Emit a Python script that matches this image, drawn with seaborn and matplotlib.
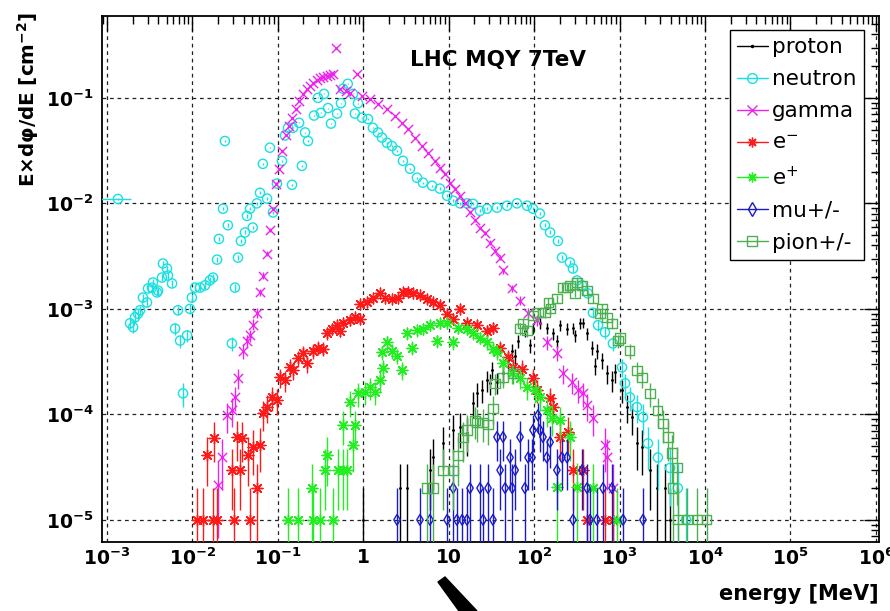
import numpy as np
import pandas as pd
import matplotlib
matplotlib.use("Agg")
import matplotlib.pyplot as plt
import seaborn as sns
from matplotlib.lines import Line2D
from matplotlib.patches import Polygon
from matplotlib.ticker import FixedLocator, FixedFormatter, LogLocator, NullFormatter

sns.set_style("white")
plt.rcParams['font.family'] = ['DejaVu Sans']
plt.rcParams['mathtext.fontset'] = 'dejavusans'
plt.rcParams['text.color'] = 'black'
plt.rcParams['axes.labelcolor'] = 'black'
plt.rcParams['xtick.color'] = 'black'
plt.rcParams['ytick.color'] = 'black'

# ---------------- data (energy in MeV, E*dphi/dE in cm^-2) ----------------
proton_E = [1.0, 2.7, 3.26, 6.05, 6.55, 8.6, 11.3, 13.6, 16.4, 19.3, 21.5, 24.6, 28.1, 30.5, 32.2, 36.8,
            43.3, 49.5, 55.4, 64.9, 78, 97, 117, 141, 166, 201, 243, 285, 345, 373, 417, 476, 544, 622,
            712, 886, 1070, 1220, 1400, 1600, 1830, 2270, 2740, 3400, 3900,
            60, 89.5, 185, 301, 516, 816]
proton_flux = [1e-5, 2e-5, 2e-5, 2.96e-5, 3.9e-5, 5.3e-5, 7.1e-5, 7.6e-5, 6.6e-5, 1.27e-4, 1.58e-4, 1.69e-4,
               2.1e-4, 1.97e-4, 2.61e-4, 2.01e-4, 2.45e-4, 3.25e-4, 4.0e-4, 5.0e-4, 6.2e-4, 6.6e-4, 7.3e-4,
               6.6e-4, 5.85e-4, 7.0e-4, 6.5e-4, 6.6e-4, 7.3e-4, 7.4e-4, 5.85e-4, 4.3e-4, 4.0e-4, 3.25e-4,
               2.45e-4, 2.5e-4, 1.69e-4, 1.17e-4, 9.4e-5, 5.3e-5, 4.9e-5, 2.96e-5, 2e-5, 2e-5, 1e-5,
               3.6e-4, 4.5e-4, 5.0e-4, 5.6e-4, 2.9e-4, 2.1e-4]

neutron_E = [1.35e-3, 1.87e-3, 2.03e-3, 2.14e-3, 2.32e-3, 2.45e-3, 2.65e-3, 2.95e-3, 3.04e-3, 3.38e-3,
             3.47e-3, 3.87e-3, 3.98e-3, 4.42e-3, 4.54e-3, 5.06e-3, 5.2e-3, 5.8e-3, 6.3e-3, 6.8e-3,
             7.2e-3, 7.8e-3, 8.7e-3, 9.4e-3, 9.9e-3, 1.08e-2, 1.23e-2, 1.41e-2, 1.61e-2, 1.75e-2,
             1.95e-2, 2.05e-2, 2.29e-2, 2.41e-2, 2.61e-2, 2.91e-2, 3.16e-2, 3.43e-2, 3.71e-2, 4.14e-2,
             4.37e-2, 4.74e-2, 5.1e-2, 5.7e-2, 6.2e-2, 6.7e-2, 7.5e-2, 8.1e-2, 8.8e-2, 9.8e-2,
             0.112, 0.122, 0.132, 0.151, 0.178, 0.192, 0.147, 0.209, 0.226, 0.266,
             0.296, 0.32, 0.348, 0.388, 0.42, 0.495, 0.55, 0.58, 0.66, 0.76,
             0.87, 0.80, 0.97, 1.14, 1.30, 1.49, 1.66, 1.90, 2.17, 2.49,
             2.92, 3.53, 4.26, 5.0, 6.4, 7.9, 9.6, 11.3, 13.6, 16.4,
             19.3, 23.3, 28.1, 36.8, 48.2, 63, 82.7, 97, 117, 134,
             154, 190, 212, 263, 285, 318, 364, 427, 488, 560,
             675, 837, 1070, 1160, 1320, 1600, 1880, 2150, 2810, 3900, 4800, 6000]
neutron_flux = [1.1e-2, 7.3e-4, 6.7e-4, 8.3e-4, 9.0e-4, 9.7e-4, 1.28e-3, 1.15e-3, 1.56e-3, 1.59e-3,
                1.78e-3, 1.43e-3, 1.49e-3, 1.98e-3, 2.69e-3, 2.41e-3, 2.07e-3, 1.74e-3, 6.5e-4, 9.7e-4,
                5.0e-4, 1.58e-4, 5.6e-4, 1.0e-3, 1.28e-3, 1.59e-3, 1.59e-3, 1.67e-3, 1.86e-3, 1.98e-3,
                2.93e-3, 4.6e-3, 8.9e-3, 3.9e-2, 6.2e-3, 4.7e-4, 1.59e-3, 3.06e-3, 4.4e-3, 5.3e-3,
                7.6e-3, 8.9e-3, 5.9e-3, 1.0e-2, 1.26e-2, 2.37e-2, 1.11e-2, 3.37e-2, 8.2e-3, 1.54e-2,
                2.53e-2, 4.4e-2, 5.2e-2, 5.2e-2, 5.8e-2, 2.27e-2, 1.5e-2, 4.7e-2, 3.9e-2, 6.8e-2,
                1.0e-1, 7.2e-2, 1.09e-1, 8.0e-2, 5.7e-2, 7.1e-2, 8.9e-2, 1.22e-1, 1.36e-1, 1.09e-1,
                8.9e-2, 7.1e-2, 6.5e-2, 6.3e-2, 5.2e-2, 4.7e-2, 4.2e-2, 3.75e-2, 3.5e-2, 3.15e-2,
                2.53e-2, 2.13e-2, 1.75e-2, 1.57e-2, 1.47e-2, 1.38e-2, 1.18e-2, 1.06e-2, 1.0e-2, 1.0e-2,
                9.9e-3, 8.5e-3, 8.9e-3, 9.1e-3, 9.5e-3, 1.0e-2, 9.5e-3, 8.9e-3, 8.0e-3, 6.2e-3,
                5.3e-3, 4.4e-3, 3.06e-3, 2.75e-3, 2.41e-3, 1.86e-3, 1.67e-3, 1.40e-3, 9.2e-4, 7.0e-4,
                6.0e-4, 4.7e-4, 2.79e-4, 1.97e-4, 1.45e-4, 1.17e-4, 9.4e-5, 5.3e-5, 3.9e-5, 3.1e-5,
                2.0e-5, 1.0e-5]
neutron_first_bin = [7.0e-4, 1.9e-3]

gamma_E = [2.0e-2, 2.23e-2, 2.55e-2, 2.91e-2, 3.16e-2, 3.43e-2, 3.92e-2, 4.37e-2, 4.74e-2, 5.1e-2,
           5.7e-2, 6.2e-2, 6.7e-2, 7.5e-2, 8.1e-2, 8.8e-2, 9.5e-2, 0.104, 0.112, 0.125,
           0.136, 0.147, 0.164, 0.178, 0.198, 0.22, 0.239, 0.259, 0.288, 0.313,
           0.339, 0.377, 0.409, 0.443, 0.481, 0.535, 0.63, 0.70, 0.85, 0.97,
           1.20, 1.49, 1.90, 2.36, 2.84, 3.34, 4.04, 4.87, 5.74, 6.9,
           7.9, 9.1, 10.4, 11.9, 13.6, 15.6, 17.8, 20.4, 23.3, 26.7,
           30.5, 34.9, 40, 43.3, 55.4, 68.5, 85, 108, 141, 185,
           218, 278, 326, 373, 417, 488, 676, 712, 837]
gamma_flux = [2.13e-5, 3.9e-5, 9.8e-5, 1.09e-4, 1.45e-4, 2.2e-4, 4.0e-4, 5.0e-4, 5.6e-4, 7.1e-4,
              9.2e-4, 1.43e-3, 2.07e-3, 3.34e-3, 5.6e-3, 8.9e-3, 1.54e-2, 2.13e-2, 3.15e-2, 4.4e-2,
              5.4e-2, 6.5e-2, 7.9e-2, 9.4e-2, 1.09e-1, 1.22e-1, 1.30e-1, 1.39e-1, 1.48e-1, 1.55e-1,
              1.58e-1, 1.62e-1, 1.65e-1, 1.69e-1, 2.97e-1, 1.22e-1, 1.16e-1, 1.12e-1, 1.69e-1, 1.04e-1,
              9.8e-2, 8.8e-2, 7.9e-2, 6.8e-2, 5.8e-2, 5.1e-2, 4.2e-2, 3.5e-2, 3.02e-2, 2.53e-2,
              2.18e-2, 1.91e-2, 1.57e-2, 1.38e-2, 1.18e-2, 1.0e-2, 8.2e-3, 6.9e-3, 5.9e-3, 5.2e-3,
              4.25e-3, 3.57e-3, 3.06e-3, 2.31e-3, 1.56e-3, 1.2e-3, 9.2e-4, 7.8e-4, 4.8e-4, 3.8e-4,
              2.45e-4, 2.01e-4, 1.69e-4, 1.58e-4, 1.22e-4, 9.2e-5, 5.1e-5, 3.9e-5, 2.0e-5]

electron_E = [1.13e-2, 1.33e-2, 1.75e-2, 1.95e-2, 3.08e-2, 4.74e-2, 2.91e-2, 3.6e-2, 3.33e-2, 3.81e-2,
              4.49e-2, 5.1e-2, 6.2e-2, 5.7e-2, 1.49e-2, 1.79e-2, 6.7e-2, 7.5e-2, 8.6e-2, 9.8e-2,
              0.106, 0.122, 0.139, 0.151, 0.173, 0.198, 0.22, 0.259, 0.296, 0.339,
              0.377, 0.431, 0.495, 0.535, 0.58, 0.70, 0.80, 0.92, 0.92, 1.11,
              1.30, 1.57, 1.80, 2.17, 2.55, 2.92, 3.34, 3.83, 4.62, 5.6,
              6.55, 7.9, 9.6, 11.3, 13.6, 16.4, 21.5, 28.1, 33, 40,
              49.5, 56.8, 72, 97, 108, 154, 166, 201, 250, 285,
              373, 417, 676, 837]
electron_flux = [1e-5, 1e-5, 1e-5, 1e-5, 1e-5, 1e-5, 2.96e-5, 2.96e-5, 6.1e-5, 6.0e-5,
                 4.1e-5, 4.9e-5, 5.1e-5, 2.0e-5, 4.1e-5, 6.0e-5, 1.02e-4, 1.17e-4, 1.45e-4, 1.36e-4,
                 2.24e-4, 2.1e-4, 2.79e-4, 2.61e-4, 3.4e-4, 3.8e-4, 3.04e-4, 4.0e-4, 4.3e-4, 4.2e-4,
                 5.85e-4, 6.5e-4, 7.0e-4, 6.2e-4, 7.4e-4, 7.8e-4, 8.3e-4, 8.1e-4, 1.12e-3, 1.15e-3,
                 1.28e-3, 1.40e-3, 1.28e-3, 1.25e-3, 1.28e-3, 1.43e-3, 1.43e-3, 1.40e-3, 1.34e-3, 1.25e-3,
                 1.15e-3, 1.08e-3, 9.0e-4, 8.1e-4, 1.0e-3, 7.4e-4, 7.0e-4, 6.2e-4, 6.6e-4, 4.3e-4,
                 3.47e-4, 2.79e-4, 2.72e-4, 2.2e-4, 1.69e-4, 1.42e-4, 1.17e-4, 6.1e-5, 6.8e-5, 2.96e-5,
                 2.96e-5, 1e-5, 1e-5, 1e-5]

positron_E = [0.132, 0.173, 0.259, 0.313, 0.443, 0.252, 0.358, 0.377, 0.51, 0.58,
              0.65, 0.58, 0.70, 0.76, 0.80, 0.87, 1.05, 1.20, 1.37, 1.57,
              1.70, 1.66, 1.90, 2.17, 2.49, 2.84, 3.26, 3.72, 4.26, 5.0,
              6.05, 7.3, 7.9, 9.6, 11.3, 12.9, 16.4, 19.3, 23.3, 28.1,
              33, 36.8, 43.3, 55.4, 68.5, 82.7, 102, 117, 141, 162,
              201, 263, 185, 318, 488, 930]
positron_flux = [1e-5, 1e-5, 1e-5, 1e-5, 1e-5, 2.0e-5, 2.96e-5, 4.1e-5, 2.96e-5, 2.96e-5,
                 2.96e-5, 7.9e-5, 1.30e-4, 5.1e-5, 7.9e-5, 1.58e-4, 1.62e-4, 1.80e-4, 1.62e-4, 2.1e-4,
                 2.73e-4, 3.87e-4, 4.8e-4, 4.0e-4, 3.6e-4, 2.61e-4, 5.85e-4, 4.3e-4, 6.25e-4, 6.5e-4,
                 7.0e-4, 5.0e-4, 7.3e-4, 7.4e-4, 4.8e-4, 6.6e-4, 6.4e-4, 5.85e-4, 5.35e-4, 4.8e-4,
                 4.2e-4, 3.87e-4, 3.04e-4, 2.45e-4, 2.2e-4, 1.80e-4, 1.69e-4, 1.45e-4, 1.09e-4, 9.2e-5,
                 8.8e-5, 6.1e-5, 2.04e-5, 2.04e-5, 2.0e-5, 1e-5]

muon_E = [2.49, 4.62, 6.05, 9.6, 11.3, 12.5, 14.4, 16.4, 17.8, 23.3,
          25.3, 28.9, 33, 36.8, 40, 43.3, 45.8, 52.3, 55.4, 60,
          68.5, 78, 85, 94.5, 97, 111, 117, 127, 141, 154,
          185, 212, 243, 285, 364, 417, 451, 544, 640, 816, 1100, 1880]
muon_flux = [1e-5, 1e-5, 1e-5, 1e-5, 2e-5, 1e-5, 1e-5, 1e-5, 2e-5, 2e-5,
             1e-5, 2e-5, 1e-5, 6.1e-5, 2.96e-5, 6.1e-5, 2e-5, 3.9e-5, 2e-5, 2.96e-5,
             6.1e-5, 2e-5, 3.9e-5, 3.9e-5, 7.1e-5, 9.8e-5, 7.1e-5, 6.1e-5, 3.9e-5, 5.45e-5,
             2.96e-5, 3.9e-5, 3.9e-5, 1e-5, 2.96e-5, 2e-5, 1e-5, 1e-5, 2e-5, 2e-5, 1e-5, 1e-5]

pion_E = [5.6, 6.55, 8.6, 11.3, 12.9, 14.7, 16.4, 20.4, 21.5, 25.3,
          28.9, 33, 34.9, 43.3, 56.8, 68.5, 74, 82.7, 97, 111,
          134, 146, 154, 185, 218, 243, 263, 301, 318, 364,
          417, 488, 590, 622, 712, 816, 958, 1010, 1320, 1600,
          1830, 2270, 2810, 3220, 3680, 4100, 4700, 4200, 4800, 6200, 8100, 10500]
pion_flux = [2e-5, 2e-5, 2.96e-5, 2.96e-5, 4.1e-5, 6.0e-5, 7.1e-5, 8.8e-5, 8.3e-5, 8.3e-5,
             8.0e-5, 1.14e-4, 1.97e-4, 2.24e-4, 2.45e-4, 6.5e-4, 7.3e-4, 6.2e-4, 8.7e-4, 9.2e-4,
             9.2e-4, 1.15e-3, 1.0e-3, 1.25e-3, 1.59e-3, 1.59e-3, 1.67e-3, 1.40e-3, 1.78e-3, 1.67e-3,
             1.49e-3, 1.25e-3, 9.0e-4, 1.0e-3, 8.3e-4, 7.3e-4, 5.0e-4, 5.3e-4, 4.0e-4, 2.61e-4,
             2.24e-4, 1.58e-4, 1.09e-4, 8.2e-5, 6.1e-5, 4.3e-5, 3.16e-5, 2e-5, 1e-5, 1e-5, 1e-5, 1e-5]

# flux of a single count (sets the Poisson error bars)
unit_count = 1e-5

series_names = ["proton", "neutron", "gamma", "e$^{-}$", "e$^{+}$", "mu+/-", "pion+/-"]

x_tick_values = [1e-3, 1e-2, 1e-1, 1, 10, 1e2, 1e3, 1e4, 1e5, 1e6]
x_tick_labels = [r"$\mathbf{10^{-3}}$", r"$\mathbf{10^{-2}}$", r"$\mathbf{10^{-1}}$", "1", "10",
                 r"$\mathbf{10^{2}}$", r"$\mathbf{10^{3}}$", r"$\mathbf{10^{4}}$",
                 r"$\mathbf{10^{5}}$", r"$\mathbf{10^{6}}$"]
y_tick_values = [1e-5, 1e-4, 1e-3, 1e-2, 1e-1]
y_tick_labels = [r"$\mathbf{10^{-5}}$", r"$\mathbf{10^{-4}}$", r"$\mathbf{10^{-3}}$",
                 r"$\mathbf{10^{-2}}$", r"$\mathbf{10^{-1}}$"]

# ---------------- styles ----------------
styles = [
    dict(color="black",   marker=".",       s=6,  open=False, lw=0.8),
    dict(color="#19e0e0", marker="o",       s=44, open=True,  lw=1.0),
    dict(color="#ee22ee", marker="x",       s=44, open=False, lw=1.0),
    dict(color="#ff1a1a", marker=(8, 2, 0), s=60, open=False, lw=1.0),
    dict(color="#22ee22", marker=(8, 2, 0), s=60, open=False, lw=1.0),
    dict(color="#1a1ac8", marker="d",       s=30, open=True,  lw=1.0),
    dict(color="#4caf50", marker="s",       s=44, open=True,  lw=1.0),
]
data = [(proton_E, proton_flux), (neutron_E, neutron_flux), (gamma_E, gamma_flux),
        (electron_E, electron_flux), (positron_E, positron_flux), (muon_E, muon_flux),
        (pion_E, pion_flux)]

fig = plt.figure(figsize=(8.9, 6.11), dpi=100)
ax = fig.add_axes([102 / 890, 1 - 542 / 611, 777 / 890, 526 / 611])
ax.set_xscale("log")
ax.set_yscale("log")
ax.set_xlim(10 ** -3.056, 10 ** 6.036)
ax.set_ylim(10 ** -5.21, 10 ** -0.224)

for i, ((E, F), st) in enumerate(zip(data, styles)):
    df = pd.DataFrame({"E": E, "flux": F})
    err = np.sqrt(df["flux"] * unit_count)
    lo = np.clip(df["flux"] - err, 1e-9, None)
    hi = df["flux"] + err
    z = 3 + i
    ax.vlines(df["E"], lo, hi, color=st["color"], lw=1.0, zorder=z)
    kw = dict(data=df, x="E", y="flux", ax=ax, marker=st["marker"], s=st["s"],
              linewidth=st["lw"], zorder=z + 0.5, legend=False)
    if st["open"]:
        sns.scatterplot(color=st["color"], facecolor="none", edgecolor=st["color"], **kw)
    elif st["marker"] == ".":
        sns.scatterplot(color=st["color"], edgecolor=st["color"], **kw)
    else:
        sns.scatterplot(color=st["color"], **kw)
    if i == 1:
        ax.hlines(df["flux"].iloc[0], neutron_first_bin[0], neutron_first_bin[1],
                  color=st["color"], lw=1.0, zorder=z)

# axes styling
ax.set_xlabel("")
ax.set_ylabel("")
ax.xaxis.set_major_locator(FixedLocator(x_tick_values))
ax.xaxis.set_major_formatter(FixedFormatter(x_tick_labels))
ax.yaxis.set_major_locator(FixedLocator(y_tick_values))
ax.yaxis.set_major_formatter(FixedFormatter(y_tick_labels))
ax.xaxis.set_minor_locator(LogLocator(base=10, subs=np.arange(2, 10), numticks=100))
ax.yaxis.set_minor_locator(LogLocator(base=10, subs=np.arange(2, 10), numticks=100))
ax.xaxis.set_minor_formatter(NullFormatter())
ax.yaxis.set_minor_formatter(NullFormatter())
ax.tick_params(which="both", direction="in", top=True, right=True, width=1.0, color="black",
               labelcolor="black")
ax.tick_params(which="major", length=11, labelsize=13.5)
ax.tick_params(which="minor", length=5.5)
ax.tick_params(axis="x", which="major", pad=4)
ax.tick_params(axis="y", which="major", pad=6)
for lbl in ax.get_xticklabels() + ax.get_yticklabels():
    lbl.set_fontweight("bold")
for sp in ax.spines.values():
    sp.set_color("black")
    sp.set_linewidth(1.3)
ax.grid(True, which="major", color="#222222", linestyle=(0, (3, 3)), linewidth=0.9)
ax.set_axisbelow(True)

# legend
handles = []
for st in styles:
    handles.append(Line2D([0], [0], color=st["color"], lw=1.0, marker=st["marker"],
                          markersize=7 if st["marker"] != "." else 3,
                          markerfacecolor="none" if st["open"] else st["color"],
                          markeredgecolor=st["color"], markeredgewidth=1.0))
leg = ax.legend(handles, series_names, loc="upper left", bbox_to_anchor=(0.808, 0.973),
                frameon=True, fancybox=False, framealpha=1, edgecolor="black",
                fontsize=15.5, labelspacing=0.56, handlelength=1.45, handletextpad=0.2,
                borderpad=0.32, borderaxespad=0.0, labelcolor="black")
leg.get_frame().set_linewidth(1.0)
leg.set_zorder(20)

# texts
fig.text(498 / 890, 1 - 60 / 611, "LHC MQY 7TeV", ha="center", va="center",
         fontsize=15.5, fontweight="bold", color="black")
fig.text(28 / 890, 1 - 12 / 611, "E×dφ/dE [cm$^{\\mathbf{-2}}$]", rotation=90,
         ha="center", va="top", fontsize=14.3, fontweight="bold", color="black")
fig.text(879 / 890, 1 - 594 / 611, "energy [MeV]", ha="right", va="center",
         fontsize=15, fontweight="bold", color="black")

# dark stroke at the bottom edge of the picture
fig.patches.append(Polygon([[438 / 890, 1 - 582 / 611], [445 / 890, 1 - 577 / 611],
                            [477 / 890, 0.0], [459 / 890, 0.0]], closed=True,
                           transform=fig.transFigure, color="black"))

fig.savefig("out.png", dpi=100)
